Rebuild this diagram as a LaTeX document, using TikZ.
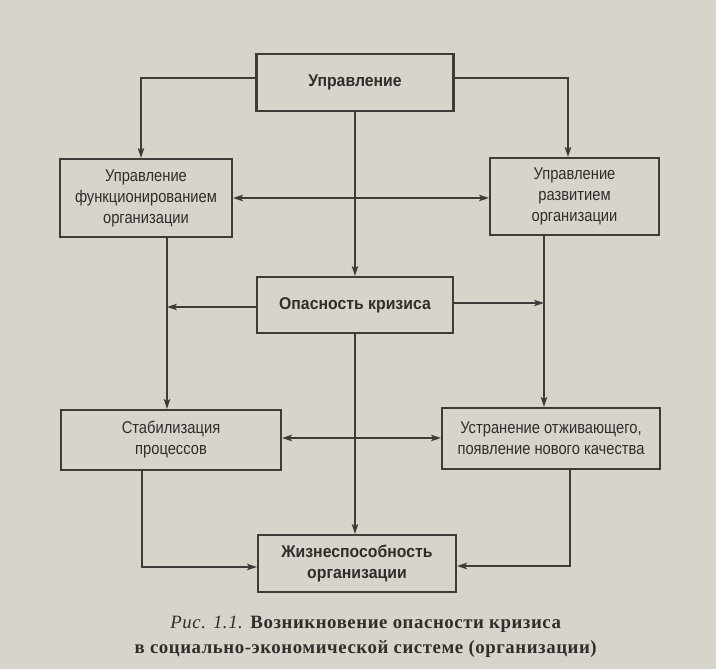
\documentclass[tikz,border=0pt]{standalone}
\usepackage{fontspec}
\setmainfont{Liberation Serif}
\newfontfamily\boxfont[FakeStretch=0.866, BoldFeatures={FakeStretch=0.93}]{Liberation Sans}
\newfontfamily\capfont[LetterSpace=3]{Liberation Serif}
\usetikzlibrary{arrows.meta,calc}
\definecolor{paper}{RGB}{215,212,204}
\definecolor{ink}{RGB}{48,46,44}
\definecolor{linec}{RGB}{62,60,57}
\tikzset{
  box/.style={draw=linec, line width=2.2pt, inner sep=0pt, align=center, text=ink,
    font={\boxfont\fontsize{17}{21}\selectfont}},
  boldbox/.style={box, font={\boxfont\bfseries\fontsize{17}{21}\selectfont}},
  conn/.style={draw=linec, line width=1.4pt},
  arr/.style={conn, -{Stealth[length=10pt,width=6.5pt,inset=2.5pt]}}
}
\begin{document}
\begin{tikzpicture}[x=1pt,y=-1pt]
\fill[paper] (0,0) rectangle (716,669);
\useasboundingbox (0,0) rectangle (716,669);

\node[boldbox, minimum width=197pt, minimum height=57pt] (top) at (355,82.5) {Управление};
\node[box, minimum width=172pt, minimum height=78pt] (lf) at (146,198) {Управление\\функционированием\\организации};
\node[box, minimum width=169pt, minimum height=77pt] (rd) at (574.5,196.5) {Управление\\развитием\\организации};
\node[boldbox, minimum width=196pt, minimum height=56pt] (op) at (355,305) {Опасность кризиса};
\node[box, minimum width=220pt, minimum height=60pt] (st) at (171,440) {Стабилизация\\процессов};
\node[box, minimum width=218pt, minimum height=61pt] (us) at (551,438.5) {Устранение отживающего,\\появление нового качества};
\node[boldbox, minimum width=198pt, minimum height=57pt] (zh) at (357,563.5) {Жизнеспособность\\организации};

% junction points
\coordinate (j1) at (355,198);
\coordinate (j2) at (355,438);
\coordinate (lx) at (167,0);
\coordinate (rx) at (544,0);
\coordinate (sb) at (142,567);
\coordinate (ub) at (570,566);

% top to side boxes
\draw[arr] ([yshift=4.5pt]top.west) -| ([xshift=-5pt]lf.north);
\draw[arr] ([yshift=4.5pt]top.east) -| ([xshift=-6.5pt]rd.north);
\draw[arr] (top.south) -- (op.north);
\draw[arr] (j1) -- (j1 -| lf.east);
\draw[arr] (j1) -- (j1 -| rd.west);

% side boxes down to lower boxes
\draw[arr] (lx |- lf.south) -- (lx |- st.north);
\draw[arr] (rx |- rd.south) -- (rx |- us.north);
\draw[arr] ([yshift=-2pt]op.west) -- ([yshift=-2pt]op.west -| lx);
\draw[arr] ([yshift=2pt]op.east) -- ([yshift=2pt]op.east -| rx);

% centre line down
\draw[arr] (op.south) -- (op.south |- zh.north);
\draw[arr] (j2) -- (j2 -| st.east);
\draw[arr] (j2) -- (j2 -| us.west);

% lower boxes into final box
\draw[arr] (sb |- st.south) -- (sb) -- (sb -| zh.west);
\draw[arr] (ub |- us.south) -- (ub) -- (ub -| zh.east);

% caption
\node[text=ink, font={\capfont\fontsize{18.8}{25}\selectfont}, align=center, inner sep=0pt] (cap) at (366,637)
  {\textit{Рис. 1.1.} \textbf{Возникновение опасности кризиса}\\\textbf{в социально-экономической системе (организации)}};
\end{tikzpicture}
\end{document}
